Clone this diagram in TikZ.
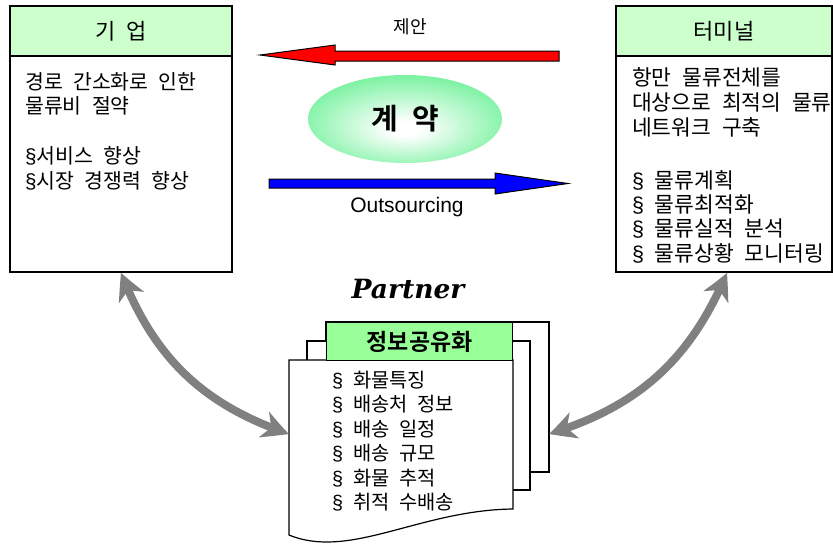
\documentclass[tikz,border=0pt]{standalone}
\usepackage{fontspec}
\setmainfont{Noto Sans CJK KR}[BoldFont={* Bold}]
\newfontfamily\latinsans{Liberation Sans}
\newfontfamily\partnerfont{DejaVu Serif}
\usetikzlibrary{arrows.meta,shapes.geometric,bending}
\definecolor{hdrgreen}{RGB}{204,255,204}
\definecolor{ptgreen}{RGB}{153,255,153}
\definecolor{egreen}{RGB}{100,240,145}
\definecolor{arrgray}{RGB}{128,128,128}
\pgfdeclareradialshading{ellshade}{\pgfpoint{0bp}{-6bp}}{color(0bp)=(white); color(4bp)=(white); color(32bp)=(egreen); color(50bp)=(egreen)}
\newcommand{\sect}{{\latinsans §}}
\protected\def\wsp{\spaceskip=0.5em plus 0.1em\relax}
\tikzset{
  boxst/.style={draw=black, line width=1.5pt, fill=white, inner sep=0pt},
  hdrst/.style={draw=black, line width=1.5pt, fill=hdrgreen, inner sep=0pt, font=\fontsize{22}{26}\selectfont},
  ltext/.style={anchor=west, inner sep=0pt, font=\fontsize{20.5}{24}\selectfont},
  rtext/.style={anchor=west, inner sep=0pt, font=\fontsize{21.5}{25}\selectfont},
  dtext/.style={anchor=west, inner sep=0pt, font=\fontsize{19.8}{23}\selectfont},
  pagest/.style={draw=black, line width=1.2pt, fill=white},
  flowarrow/.style={draw=black, line width=1pt},
  grayarrow/.style={draw=arrgray, line width=8pt,
    {Stealth[length=27pt,width=27pt,inset=8pt,bend,color=arrgray]}-{Stealth[length=27pt,width=27pt,inset=8pt,bend,color=arrgray]}}
}
\begin{document}
\begin{tikzpicture}[x=1pt,y=-1pt]
\useasboundingbox (0,0) rectangle (833,550);
% left box
\node[boxst, minimum width=222pt, minimum height=266pt] (kiup) at (121,139) {};
\node[hdrst, minimum width=222pt, minimum height=50pt, anchor=north] (kiuph) at (kiup.north) {\wsp 기 업};
\foreach \t/\yy [count=\i] in {경로 간소화로 인한/82, 물류비 절약/106, \sect{}서비스 향상/156, \sect{}시장 경쟁력 향상/181}
  \node[ltext] (kl\i) at (25,\yy) {\wsp\t};
% right box
\node[boxst, minimum width=216pt, minimum height=266pt] (term) at (724,139) {};
\node[hdrst, minimum width=216pt, minimum height=50pt, anchor=north] (termh) at (term.north) {터미널};
\foreach \t/\yy [count=\i] in {항만 물류전체를/77, 대상으로 최적의 물류/102, 네트워크 구축/127, \sect{} 물류계획/180, \sect{} 물류최적화/205, \sect{} 물류실적 분석/229, \sect{} 물류상황 모니터링/253}
  \node[rtext] (tl\i) at (632,\yy) {\wsp\t};
% flow arrows
\filldraw[flowarrow, fill=red] (260,55) -- (335,45) -- (335,51) -- (559,51) -- (559,61) -- (335,61) -- (335,65) -- cycle;
\filldraw[flowarrow, fill=blue] (269,179) -- (495,179) -- (495,173) -- (568,183.5) -- (495,194) -- (495,188) -- (269,188) -- cycle;
\node[font=\fontsize{18}{22}\selectfont] (propose) at (410,27) {제안};
\node[font=\latinsans\fontsize{21}{24}\selectfont] (outs) at (407,207) {Outsourcing};
% contract ellipse
\node[ellipse, minimum width=194pt, minimum height=88pt, shade, shading=ellshade, font=\bfseries\fontsize{29}{34}\selectfont] (contract) at (405,119) {\wsp 계 약};
% partner
\node[font=\partnerfont\bfseries\itshape\fontsize{26.5}{30}\selectfont] (partner) at (408,289) {Partner};
% document stack
\filldraw[pagest] (326,322) rectangle (549,472);
\filldraw[pagest] (307,341) rectangle (530,490);
\filldraw[pagest] (289,360) -- (513,360) -- (513,509) .. controls (420,510) and (350,560) .. (289,535) -- cycle;
\node[draw=black, line width=1.2pt, fill=ptgreen, inner sep=0pt, minimum width=186pt, minimum height=38pt, anchor=north west, font=\bfseries\fontsize{23}{27}\selectfont] (info) at (326,322) {정보공유화};
\foreach \t/\yy [count=\i] in {\sect{} 화물특징/380, \sect{} 배송처 정보/404, \sect{} 배송 일정/429, \sect{} 배송 규모/453, \sect{} 화물 추적/478, \sect{} 취적 수배송/502}
  \node[dtext] (dl\i) at (332,\yy) {\wsp\t};
\coordinate (docL) at (289,434);
\coordinate (docR) at (549,434);
% gray connectors
\draw[grayarrow] (kiup.south) to[bend right=25] (docL);
\draw[grayarrow] ([xshift=3pt]term.south) to[bend left=25] (docR);
\end{tikzpicture}
\end{document}
